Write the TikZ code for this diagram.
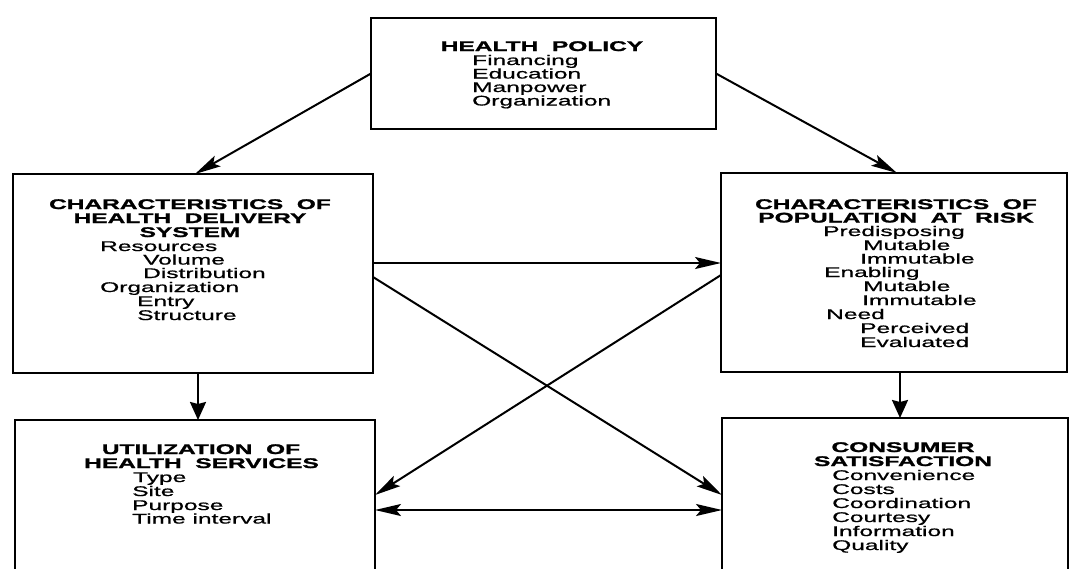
\documentclass[tikz,border=0pt]{standalone}
\usepackage{fontspec}
\setmainfont{Liberation Sans}[FakeStretch=1.75, UprightFeatures={FakeBold=0.9}, BoldFeatures={FakeBold=1.6}]
\usetikzlibrary{arrows.meta}
\begin{document}
\begin{tikzpicture}[x=1pt,y=-1pt,
 box/.style={draw, line width=2.6pt, inner sep=0pt, outer sep=0pt},
 hdr/.style={anchor=base, inner sep=0pt, font=\fontsize{14}{14}\selectfont\bfseries},
 itm/.style={anchor=base west, inner sep=0pt, font=\fontsize{14}{14}\selectfont},
 arr/.style={line width=2pt, -{Stealth[length=26pt,width=12pt,inset=5pt]}},
 darr/.style={line width=2pt, {Stealth[length=26pt,width=12pt,inset=5pt]}-{Stealth[length=26pt,width=12pt,inset=5pt]}},
 varr/.style={line width=2.2pt, -{Stealth[length=18pt,width=16pt,inset=2pt]}},
]
\useasboundingbox (0,0) rectangle (1070,568);
\clip (0,0) rectangle (1070,568);
% boxes
\node[box, minimum width=345pt, minimum height=111pt] (hp) at (543.5,73.5) {};
\node[box, minimum width=360pt, minimum height=199pt] (ds) at (193,273.5) {};
\node[box, minimum width=346pt, minimum height=199pt] (pr) at (894,272.5) {};
\node[box, minimum width=360pt, minimum height=180pt] (uh) at (195,510) {};
\node[box, minimum width=346pt, minimum height=182pt] (cs) at (895,509) {};
% health policy
\node[hdr] (hph) at (542,51) {HEALTH\ \ POLICY};
\foreach \x/\y/\t [count=\i] in {472/65/Financing,472/78.5/Education,472/92/Manpower,472/105.5/Organization}
  \node[itm] (hp\i) at (\x,\y) {\t};
% delivery system
\node[hdr] (dsh1) at (190,209) {CHARACTERISTICS\ \ OF};
\node[hdr] (dsh2) at (190,223) {HEALTH\ \ DELIVERY};
\node[hdr] (dsh3) at (190,237) {SYSTEM};
\foreach \x/\y/\t [count=\i] in {100/251/Resources,143/264.5/Volume,143/278/Distribution,100/292/Organization,137/306/Entry,137/320/Structure}
  \node[itm] (ds\i) at (\x,\y) {\t};
% population at risk
\node[hdr] (prh1) at (896,209) {CHARACTERISTICS\ \ OF};
\node[hdr] (prh2) at (896,222.5) {POPULATION\ \ AT\ \ RISK};
\foreach \x/\y/\t [count=\i] in {823/236/Predisposing,863/250/Mutable,860/263.5/Immutable,824/277/Enabling,863/291/Mutable,862/305/Immutable,826/319/Need,860/333/Perceived,860/347/Evaluated}
  \node[itm] (pr\i) at (\x,\y) {\t};
% utilization
\node[hdr] (uhh1) at (201,454) {UTILIZATION\ \ OF};
\node[hdr] (uhh2) at (201.5,468) {HEALTH\ \ SERVICES};
\foreach \x/\y/\t [count=\i] in {133/482/Type,132/496/Site,132/510/Purpose,132/523.5/Time interval}
  \node[itm] (uh\i) at (\x,\y) {\t};
% consumer satisfaction
\node[hdr] (csh1) at (903,452) {CONSUMER};
\node[hdr] (csh2) at (903,466) {SATISFACTION};
\foreach \x/\y/\t [count=\i] in {832/480/Convenience,832/494/Costs,832/508/Coordination,832/522/Courtesy,832/536/Information,832/550/Quality}
  \node[itm] (cs\i) at (\x,\y) {\t};
% connectors
\draw[arr] (hp.west) -- ([xshift=2pt]ds.north);
\draw[arr] (hp.east) -- ([xshift=3pt]pr.north);
\coordinate (v1) at ([xshift=5pt]ds.south);
\draw[varr] (v1) -- (v1 |- uh.north);
\coordinate (v2) at ([xshift=6pt]pr.south);
\draw[varr] (v2) -- (v2 |- cs.north);
\coordinate (h1) at ([yshift=10.5pt]ds.east);
\draw[arr] (h1) -- (h1 -| pr.west);
\draw[arr] ([yshift=-3.5pt]ds.east) -- ([yshift=14pt]cs.west);
\draw[arr] ([yshift=-2.5pt]pr.west) -- ([yshift=15pt]uh.east);
\draw[darr] (uh.east) -- (uh.east -| cs.west);
\end{tikzpicture}
\end{document}
